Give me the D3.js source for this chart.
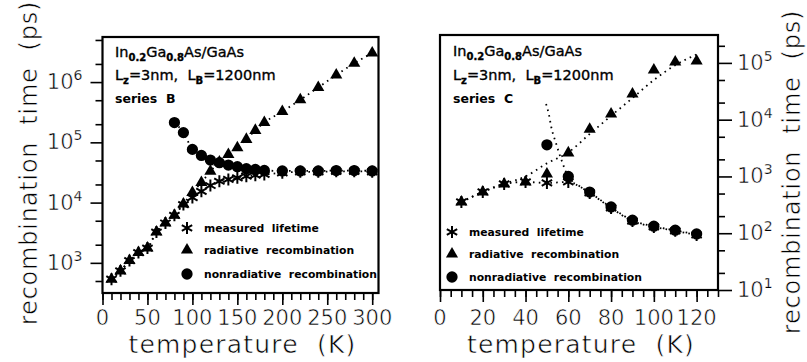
<!DOCTYPE html>
<html>
<head>
<meta charset="utf-8">
<script src="https://cdn.jsdelivr.net/npm/d3@7"></script>
<style>
  html, body { margin: 0; padding: 0; background: #fff; }
  svg { display: block; }
  text { font-family: "DejaVu Sans", sans-serif; fill: #000; }
  /* thinner strokes for the large axis lettering */
  .thin { stroke: #fff; stroke-width: 0.6px; paint-order: fill stroke; }
  .thin .sup { stroke-width: 0.25px; }
</style>
</head>
<body>
<svg id="chart" width="807" height="362"></svg>
<script>
// ---------- Series B (sample temperatures in K, times in ps) ----------
const tempB = [10,20,30,40,50,60,70,80,90,100,110,120,130,140,150,160,170,180,200,220,240,260,280,300];
const measuredB = [535,736,1090,1480,1760,3250,4590,6140,9260,12100,15400,19200,22600,24200,25800,27400,28500,29300,31200,32400,32400,33000,33000,32400];
const radiativeB = [535,736,1090,1480,1760,3250,4590,6140,9500,14700,21500,33000,47000,63000,81600,112000,158000,213000,325000,507000,816000,1310000,2050000,3040000];
const nonradTempB = [80,90,100,110,120,130,140,150,160,170,180,200,220,240,260,280,300];
const nonradB = [213000,145000,76400,60700,50700,45900,41900,39400,36500,35500,34200,33500,33500,33500,34000,34000,33500];

// ---------- Series C ----------
const tempC = [10,20,30,40,50,60,70,80,90,100,110,120];
const measuredC = [356,533,738,800,768,800,512,279,164,129,110,93];
const radiativeC = [356,533,738,800,1100,2600,6800,12600,28400,75000,104000,108000];
const nonradTempC = [50,60,70,80,90,100,110,120];
const nonradC = [3600,1000,530,290,170,133,113,97];
// model curves drawn through series C
const radFitTempC = [10,20,30,40,50,60,70,80,90,100,110,120];
const radFitC = [356,530,740,1000,1700,2650,5600,11700,24000,50000,91000,141000];
const nonradFitTempC = [49.6,51,52,54.2,56.8,60,70,80,90,100,110,120];
const nonradFitC = [18900,12000,7500,3900,1950,1000,530,285,168,132,112,95];

// ---------- axis ticks ----------
const xMajorB = [0,50,100,150,200,250,300];
const xMinorB = d3.range(0, 301, 10);
const yMajorB = [1e3,1e4,1e5,1e6];
const yExpB = ["3","4","5","6"];
const xMajorC = [0,20,40,60,80,100,120];
const xMinorC = d3.range(0, 131, 5);
const yMajorC = [1e1,1e2,1e3,1e4,1e5];
const yExpC = ["1","2","3","4","5"];

const legendLabels = ["measured  lifetime", "radiative  recombination", "nonradiative  recombination"];

const svg = d3.select("#chart");

const asterisk = d3.symbol().type(d3.symbolAsterisk).size(100);
const triangle = d3.symbol().type(d3.symbolTriangle).size(64);
const circle = d3.symbol().type(d3.symbolCircle).size(100);

function drawPanel(cfg) {
  const g = svg.append("g");
  const x = d3.scaleLinear().domain(cfg.xDomain).range(cfg.xRange);
  const y = d3.scaleLog().domain(cfg.yDomain).range(cfg.yRange);
  const [x0, x1] = cfg.xRange;
  const [yb, yt] = cfg.yRange;

  // bottom ticks (outward)
  const minorX = g.append("g").attr("transform", `translate(0,${yb})`)
    .call(d3.axisBottom(x).tickValues(cfg.xMinor).tickSize(7).tickFormat(""));
  const majorX = g.append("g").attr("transform", `translate(0,${yb})`)
    .call(d3.axisBottom(x).tickValues(cfg.xMajor).tickSize(12).tickFormat(""));
  [minorX, majorX].forEach(a => {
    a.select(".domain").remove();
    a.selectAll("line").attr("stroke", "#000").attr("stroke-width", 1.6);
  });
  g.selectAll(".xlab").data(cfg.xMajor).join("text")
    .attr("class", "thin")
    .attr("x", d => x(d)).attr("y", 325)
    .attr("text-anchor", "middle")
    .style("font-size", "21px")
    .text(d => d);

  // y ticks: 2 and 5 per decade as minor
  const [lo, hi] = cfg.yDomain;
  const yMinor = [];
  for (let e = Math.floor(Math.log10(lo)); e <= Math.ceil(Math.log10(hi)); e++) {
    [2, 5].forEach(m => { const v = m * Math.pow(10, e); if (v >= lo && v <= hi) yMinor.push(v); });
  }
  const axisFn = cfg.yRight ? d3.axisRight : d3.axisLeft;
  const yPos = cfg.yRight ? x1 : x0;
  const minorY = g.append("g").attr("transform", `translate(${yPos},0)`)
    .call(axisFn(y).tickValues(yMinor).tickSize(7).tickFormat(""));
  const majorY = g.append("g").attr("transform", `translate(${yPos},0)`)
    .call(axisFn(y).tickValues(cfg.yMajor).tickSize(cfg.yRight ? 14 : 12).tickFormat(""));
  [minorY, majorY].forEach(a => {
    a.select(".domain").remove();
    a.selectAll("line").attr("stroke", "#000").attr("stroke-width", 1.6);
  });
  const ylab = g.selectAll(".ylab").data(cfg.yMajor).join("text")
    .attr("class", "thin")
    .attr("x", cfg.yRight ? x1 + 19 : x0 - 20)
    .attr("y", d => y(d) + 7)
    .attr("text-anchor", cfg.yRight ? "start" : "end")
    .style("font-size", "21px");
  ylab.append("tspan").text("10");
  ylab.append("tspan").attr("class", "sup").attr("dy", -9).style("font-size", "14px")
    .text((d, i) => cfg.yExp[i]);

  // frame
  g.append("rect").attr("x", x0).attr("y", yt)
    .attr("width", x1 - x0).attr("height", yb - yt)
    .attr("fill", "none").attr("stroke", "#000").attr("stroke-width", 2.2);

  // dotted curves
  const line = d3.line().x(d => x(d[0])).y(d => y(d[1])).curve(d3.curveMonotoneX);
  cfg.curves.forEach(c => {
    g.append("path").datum(d3.zip(c.t, c.v)).attr("d", line)
      .attr("fill", "none").attr("stroke", "#000")
      .attr("stroke-width", 1.8).attr("stroke-dasharray", "1.6 4.2");
  });

  // markers
  g.selectAll(".nr").data(d3.zip(cfg.nonradT, cfg.nonrad)).join("path")
    .attr("transform", d => `translate(${x(d[0])},${y(d[1])})`)
    .attr("d", circle).attr("fill", "#000");
  g.selectAll(".rad").data(d3.zip(cfg.temp, cfg.radiative)).join("path")
    .attr("transform", d => `translate(${x(d[0])},${y(d[1])})`)
    .attr("d", triangle).attr("fill", "#000");
  g.selectAll(".meas").data(d3.zip(cfg.temp, cfg.measured)).join("path")
    .attr("transform", d => `translate(${x(d[0])},${y(d[1])})`)
    .attr("d", asterisk).attr("fill", "none").attr("stroke", "#000").attr("stroke-width", 2);

  // sample description
  const info = g.append("g").attr("transform", `translate(${cfg.infoX},0)`);
  const t1 = info.append("text").attr("y", cfg.infoY[0]).style("font-size", "14.5px")
    .style("stroke", "#000").style("stroke-width", "0.35px");
  t1.append("tspan").text("In");
  t1.append("tspan").attr("dy", 4).style("font-size", "10px").style("font-weight", "bold").text("0.2");
  t1.append("tspan").attr("dy", -4).text("Ga");
  t1.append("tspan").attr("dy", 4).style("font-size", "10px").style("font-weight", "bold").text("0.8");
  t1.append("tspan").attr("dy", -4).text("As/GaAs");
  const t2 = info.append("text").attr("y", cfg.infoY[1]).style("font-size", "14.5px")
    .style("stroke", "#000").style("stroke-width", "0.35px").style("white-space", "pre");
  t2.append("tspan").text("L");
  t2.append("tspan").attr("dy", 4).style("font-size", "10px").style("font-weight", "bold").text("z");
  t2.append("tspan").attr("dy", -4).text("=3nm,  L");
  t2.append("tspan").attr("dy", 4).style("font-size", "10px").style("font-weight", "bold").text("B");
  t2.append("tspan").attr("dy", -4).text("=1200nm");
  info.append("text").attr("y", cfg.infoY[2]).style("font-size", "12.5px")
    .style("font-weight", "bold").style("white-space", "pre").text(cfg.seriesLabel);

  // legend
  const leg = g.append("g");
  const syms = [asterisk, triangle, circle];
  legendLabels.forEach((lab, i) => {
    const ly = cfg.legY[i];
    const p = leg.append("path").attr("transform", `translate(${cfg.legX},${ly})`).attr("d", syms[i]);
    if (i === 0) p.attr("fill", "none").attr("stroke", "#000").attr("stroke-width", 2);
    else p.attr("fill", "#000");
    leg.append("text").attr("x", cfg.legX + 17).attr("y", ly + 4)
      .style("font-size", "10.8px").style("font-weight", "bold").style("white-space", "pre")
      .text(lab);
  });

  // axis titles
  g.append("text").attr("class", "thin")
    .attr("x", (x0 + x1) / 2 + 2).attr("y", 353)
    .attr("text-anchor", "middle").style("font-size", "25px")
    .style("letter-spacing", "1.2px").style("white-space", "pre")
    .text("temperature  (K)");
  g.append("text").attr("class", "thin")
    .attr("transform", `translate(${cfg.yTitleX},${cfg.yTitleY}) rotate(-90)`)
    .attr("text-anchor", "middle").style("font-size", "24px")
    .style("letter-spacing", "0.8px").style("white-space", "pre")
    .text("recombination  time  (ps)");
}

drawPanel({
  xDomain: [0, 307], xRange: [102.5, 378.5],
  yDomain: [316, 5.6e6], yRange: [293, 37],
  xMajor: xMajorB, xMinor: xMinorB, yMajor: yMajorB, yExp: yExpB, yRight: false,
  temp: tempB, measured: measuredB, radiative: radiativeB, nonradT: nonradTempB, nonrad: nonradB,
  curves: [
    { t: tempB, v: measuredB },
    { t: tempB, v: radiativeB },
    { t: nonradTempB, v: nonradB }
  ],
  infoX: 115, infoY: [57, 80, 103], seriesLabel: "series  B",
  legX: 187, legY: [228, 250, 274],
  yTitleX: 37, yTitleY: 163
});

drawPanel({
  xDomain: [0, 130], xRange: [440, 718],
  yDomain: [10, 3.1e5], yRange: [290, 35],
  xMajor: xMajorC, xMinor: xMinorC, yMajor: yMajorC, yExp: yExpC, yRight: true,
  temp: tempC, measured: measuredC, radiative: radiativeC, nonradT: nonradTempC, nonrad: nonradC,
  curves: [
    { t: tempC, v: measuredC },
    { t: radFitTempC, v: radFitC },
    { t: nonradFitTempC, v: nonradFitC }
  ],
  infoX: 453, infoY: [56, 80, 103], seriesLabel: "series  C",
  legX: 452, legY: [232, 254, 277],
  yTitleX: 800, yTitleY: 172
});
</script>
</body>
</html>
